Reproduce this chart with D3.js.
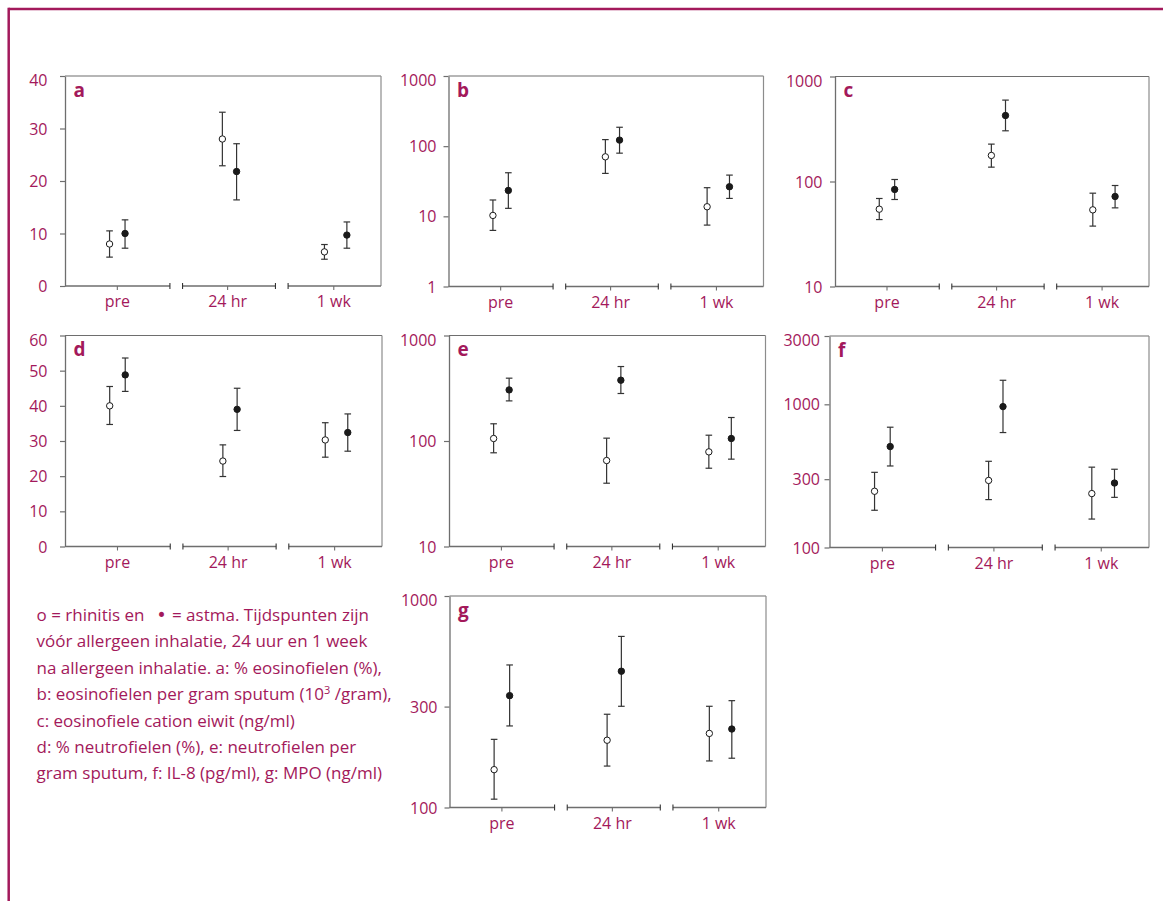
<!DOCTYPE html>
<html>
<head>
<meta charset="utf-8">
<script src="https://cdn.jsdelivr.net/npm/d3@7"></script>
<style>
  html, body { margin: 0; padding: 0; background: #fff; }
  svg { display: block; }
  text { font-family: "Open Sans", "Noto Sans", sans-serif; }
</style>
</head>
<body>
<svg id="chart" width="1163" height="901"></svg>
<script>
// Time points on the x axis
const timepoints = ["pre", "24 hr", "1 wk"];

// Each entry: [geometric mean, lower bar, upper bar] per time point
// a: % eosinophils
const a_rhinitis = [[8.0, 5.5, 10.5], [28.0, 22.9, 33.1], [6.5, 5.1, 7.9]];
const a_astma    = [[10.0, 7.2, 12.6], [21.8, 16.4, 27.1], [9.7, 7.2, 12.2]];
// b: eosinophils per gram sputum
const b_rhinitis = [[10.3, 6.3, 17.1], [70.5, 40.9, 124], [13.7, 7.5, 25.6]];
const b_astma    = [[23.4, 13.0, 41.8], [122, 79.5, 186], [26.4, 18.0, 38.7]];
// c: eosinophil cationic protein
const c_rhinitis = [[54.5, 43.4, 68.9], [177, 137, 227], [53.7, 37.6, 77.4]];
const c_astma    = [[84, 67.4, 104.5], [425, 304, 596], [72, 56.1, 91.6]];
// d: % neutrophils
const d_rhinitis = [[40.0, 34.7, 45.5], [24.3, 19.9, 28.9], [30.3, 25.4, 35.2]];
const d_astma    = [[48.8, 44.1, 53.6], [39.0, 33.0, 45.0], [32.4, 27.1, 37.7]];
// e: neutrophils per gram sputum
const e_rhinitis = [[105.6, 77.3, 145.6], [65.3, 39.8, 106.4], [78.9, 55.2, 113.5]];
const e_astma    = [[305, 240, 394], [377, 282, 508], [105.6, 67.3, 167]];
// f: IL-8
const f_rhinitis = [[247, 182, 335], [294, 216, 400], [238, 158, 364]];
const f_astma    = [[507, 371, 692], [964, 635, 1472], [282, 224, 352]];
// g: MPO
const g_rhinitis = [[151, 109.5, 210], [208, 157, 276], [224, 166, 301]];
const g_astma    = [[338, 243, 472], [441, 301, 644], [235, 171, 320]];

// y axis domains and tick values
const a_domain = [0, 40],    a_ticks = [0, 10, 20, 30, 40];
const b_domain = [1, 1000],  b_ticks = [1, 10, 100, 1000];
const c_domain = [10, 1000], c_ticks = [10, 100, 1000];
const d_domain = [0, 60],    d_ticks = [0, 10, 20, 30, 40, 50, 60];
const e_domain = [10, 1000], e_ticks = [10, 100, 1000];
const f_domain = [100, 3000], f_ticks = [100, 300, 1000, 3000];
const g_domain = [100, 1000], g_ticks = [100, 300, 1000];

// Caption lines after the first one
const captionLines = [
  "vóór allergeen inhalatie, 24 uur en 1 week",
  "na allergeen inhalatie. a: % eosinofielen (%),",
  null, // line with superscript, built below
  "c: eosinofiele cation eiwit (ng/ml)",
  "d: % neutrofielen (%), e: neutrofielen per",
  "gram sputum, f: IL-8 (pg/ml), g: MPO (ng/ml)"
];

const MAGENTA = "#a3195b";
const AXIS = "#6e6e6e";
const INK = "#333333";
const LABEL_SIZE = 16;

const panels = [
  { id: "a", log: false, domain: a_domain, ticks: a_ticks, rh: a_rhinitis, as: a_astma,
    box: [65, 381, 76, 286], gap: 12.5 },
  { id: "b", log: true, domain: b_domain, ticks: b_ticks, rh: b_rhinitis, as: b_astma,
    box: [448.5, 763.5, 76, 286.5], gap: 7 },
  { id: "c", log: true, domain: c_domain, ticks: c_ticks, rh: c_rhinitis, as: c_astma,
    box: [835, 1149, 76.5, 286.5], gap: 7.5 },
  { id: "d", log: false, domain: d_domain, ticks: d_ticks, rh: d_rhinitis, as: d_astma,
    box: [65, 382, 335.5, 546.5], gap: 12.5 },
  { id: "e", log: true, domain: e_domain, ticks: e_ticks, rh: e_rhinitis, as: e_astma,
    box: [449, 765.5, 335.5, 546.5], gap: 7.5 },
  { id: "f", log: true, domain: f_domain, ticks: f_ticks, rh: f_rhinitis, as: f_astma,
    box: [829.5, 1149, 336, 547.5], gap: 4.5 },
  { id: "g", log: true, domain: g_domain, ticks: g_ticks, rh: g_rhinitis, as: g_astma,
    box: [449.5, 766, 596, 807.5], gap: 7 }
];

// Horizontal layout within a panel, as fractions of its width
const tickFrac = d3.scaleOrdinal(timepoints, [0.164, 0.513, 0.849]);
const openFrac = d3.scaleOrdinal(timepoints, [0.141, 0.498, 0.821]);
const filledFrac = d3.scaleOrdinal(timepoints, [0.190, 0.543, 0.892]);
const segments = [[0, 0.332], [0.372, 0.666], [0.706, 1]];

const svg = d3.select("#chart");

// Page frame
svg.append("line").attr("x1", 8.5).attr("x2", 1163).attr("y1", 9).attr("y2", 9)
  .attr("stroke", MAGENTA).attr("stroke-width", 2.5);
svg.append("line").attr("x1", 8.7).attr("x2", 8.7).attr("y1", 7.8).attr("y2", 901)
  .attr("stroke", MAGENTA).attr("stroke-width", 2.5);

panels.forEach(p => {
  const [x0, x1, y0, y1] = p.box;
  const g = svg.append("g");
  const x = d3.scaleLinear().domain([0, 1]).range([x0, x1]);
  const y = (p.log ? d3.scaleLog() : d3.scaleLinear()).domain(p.domain).range([y1, y0]);

  // top and right frame lines
  g.append("line").attr("x1", x0).attr("x2", x1).attr("y1", y0).attr("y2", y0)
    .attr("stroke", AXIS).attr("stroke-width", 1.2);
  g.append("line").attr("x1", x1).attr("x2", x1).attr("y1", y0).attr("y2", y1)
    .attr("stroke", "#8c8c8c").attr("stroke-width", 1.2);

  // y axis
  const yAxis = d3.axisLeft(y).tickValues(p.ticks).tickFormat(d3.format("d"))
    .tickSize(5).tickSizeOuter(0).tickPadding(p.gap);
  const ya = g.append("g").attr("transform", `translate(${x0},0)`).call(yAxis);
  ya.select(".domain").attr("stroke", AXIS).attr("stroke-width", 1.3);
  ya.selectAll(".tick line").attr("stroke", AXIS).attr("stroke-width", 1.2);
  ya.selectAll(".tick text")
    .attr("fill", MAGENTA).attr("font-size", LABEL_SIZE)
    .attr("font-family", "'Open Sans', sans-serif")
    .attr("dy", (d, i) => i === p.ticks.length - 1 ? "0.6em" : "0.35em");

  // segmented bottom axis
  segments.forEach(([s0, s1], i) => {
    g.append("line").attr("x1", x(s0)).attr("x2", x(s1)).attr("y1", y1).attr("y2", y1)
      .attr("stroke", AXIS).attr("stroke-width", 1.3);
    if (i > 0) {
      g.append("line").attr("x1", x(s0)).attr("x2", x(s0)).attr("y1", y1 - 3).attr("y2", y1 + 3)
        .attr("stroke", INK).attr("stroke-width", 1.1);
    }
    if (i < segments.length - 1) {
      g.append("line").attr("x1", x(s1)).attr("x2", x(s1)).attr("y1", y1 - 3).attr("y2", y1 + 3)
        .attr("stroke", INK).attr("stroke-width", 1.1);
    }
  });
  const xCat = d3.scaleOrdinal(timepoints, timepoints.map(t => x(tickFrac(t))));
  const xAxis = d3.axisBottom(xCat).tickSize(4).tickPadding(6);
  const xa = g.append("g").attr("transform", `translate(0,${y1})`).call(xAxis);
  xa.select(".domain").remove();
  xa.selectAll(".tick line").attr("stroke", AXIS).attr("stroke-width", 1.1);
  xa.selectAll(".tick text")
    .attr("fill", MAGENTA).attr("font-size", LABEL_SIZE)
    .attr("font-family", "'Open Sans', sans-serif");

  // panel letter
  g.append("text").attr("x", x0 + 8.5).attr("y", y0 + 20.5)
    .attr("fill", MAGENTA).attr("font-size", 19).attr("font-weight", "bold")
    .text(p.id);

  // error bars and markers
  const series = [
    { rows: p.rh, frac: openFrac, fill: "#fff" },
    { rows: p.as, frac: filledFrac, fill: "#1a1a1a" }
  ];
  series.forEach(s => {
    const sg = g.append("g");
    const pts = s.rows.map((r, i) => ({ t: timepoints[i], m: r[0], lo: r[1], hi: r[2] }));
    const cap = 3.3;
    sg.selectAll(".bar").data(pts).enter().append("line")
      .attr("x1", d => x(s.frac(d.t))).attr("x2", d => x(s.frac(d.t)))
      .attr("y1", d => y(d.lo)).attr("y2", d => y(d.hi))
      .attr("stroke", INK).attr("stroke-width", 1.2);
    ["lo", "hi"].forEach(k => {
      sg.selectAll(".cap-" + k).data(pts).enter().append("line")
        .attr("x1", d => x(s.frac(d.t)) - cap).attr("x2", d => x(s.frac(d.t)) + cap)
        .attr("y1", d => y(d[k])).attr("y2", d => y(d[k]))
        .attr("stroke", INK).attr("stroke-width", 1.2);
    });
    sg.selectAll("circle").data(pts).enter().append("circle")
      .attr("cx", d => x(s.frac(d.t))).attr("cy", d => y(d.m))
      .attr("r", 3.2).attr("fill", s.fill)
      .attr("stroke", "#1a1a1a").attr("stroke-width", 1);
  });
});

// Caption
const cap = svg.append("g").attr("fill", MAGENTA).attr("font-size", 17);
const capX = 36.5, capY0 = 621, capStep = 26.4;
const first = cap.append("text").attr("x", capX).attr("y", capY0);
first.append("tspan").text("o = rhinitis en");
first.append("tspan").attr("dx", 12).attr("font-size", 17)
  .attr("font-family", "'DejaVu Sans', sans-serif").text("•");
first.append("tspan").attr("dx", 1).text(" = astma. Tijdspunten zijn");
captionLines.forEach((line, i) => {
  const t = cap.append("text").attr("x", capX).attr("y", capY0 + capStep * (i + 1));
  if (line === null) {
    t.append("tspan").text("b: eosinofielen per gram sputum (10");
    t.append("tspan").attr("font-size", 11).attr("dy", -6).text("3");
    t.append("tspan").attr("dy", 6).text(" /gram),");
  } else {
    t.text(line);
  }
});
</script>
</body>
</html>
